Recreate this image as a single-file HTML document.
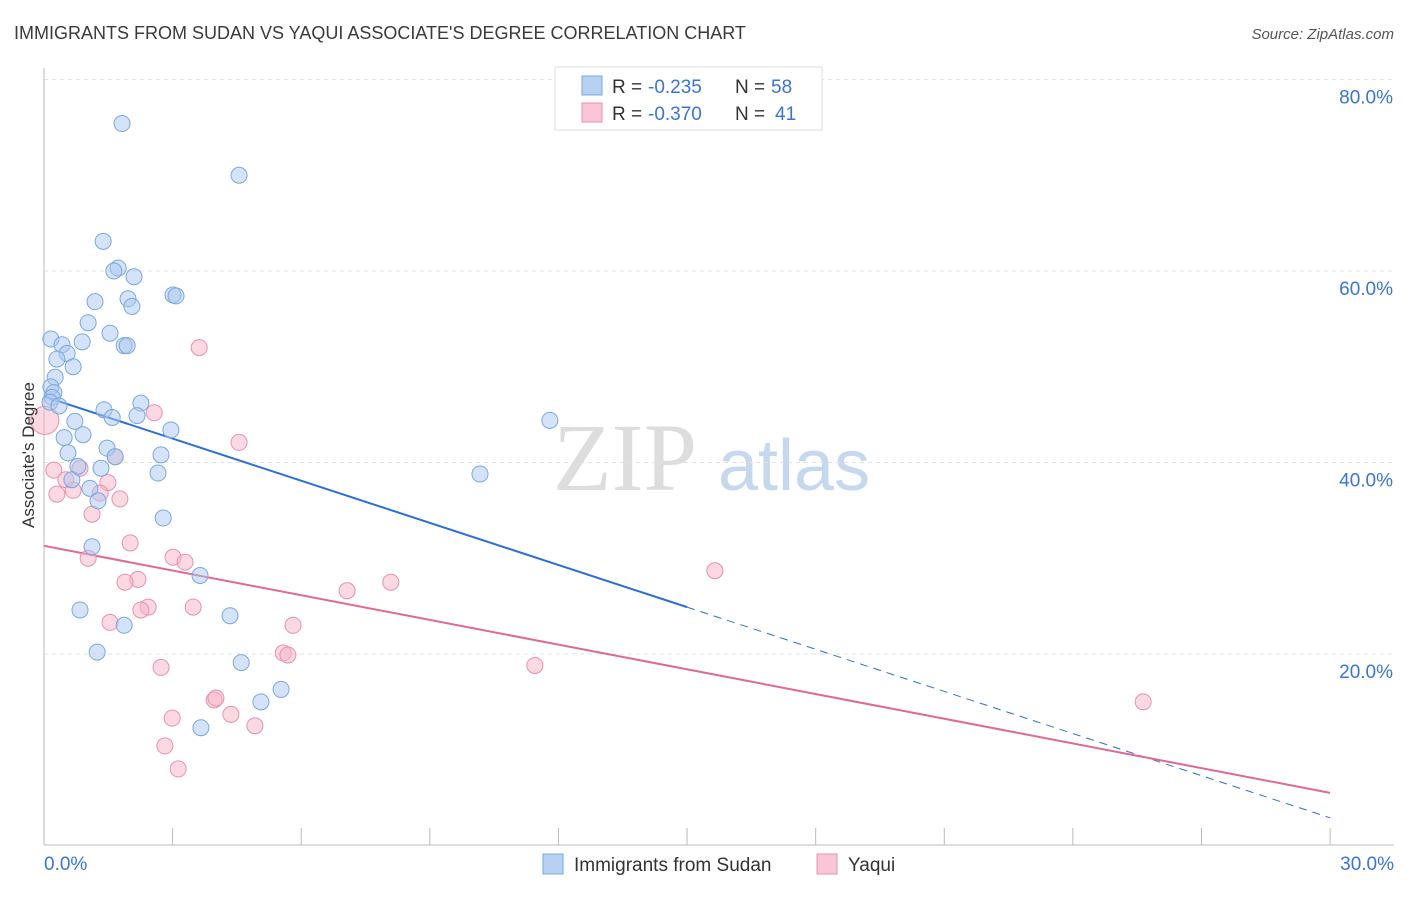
<!DOCTYPE html>
<html><head><meta charset="utf-8"><style>
body{margin:0;background:#fff;font-family:"Liberation Sans",sans-serif;}
</style></head><body>
<svg id="chart" width="1406" height="892" xmlns="http://www.w3.org/2000/svg" font-family="Liberation Sans, sans-serif">
<text x="14" y="39" font-size="18" fill="#3a3a3a">IMMIGRANTS FROM SUDAN VS YAQUI ASSOCIATE'S DEGREE CORRELATION CHART</text>
<text x="1394" y="39" font-size="15" fill="#555" font-style="italic" text-anchor="end">Source: ZipAtlas.com</text>
<g>
<text x="553" y="490" font-size="96" fill="#ddd" font-family="Liberation Serif, serif">ZIP</text>
<text x="718" y="490" font-size="72" fill="#c5d8ee">atlas</text>
</g>
<g id="grid"></g><g id="axes"></g><g id="trend"></g><g id="pts"></g>
<text transform="translate(34,455) rotate(-90)" font-size="17" fill="#333" text-anchor="middle">Associate's Degree</text>
<g>
<rect x="555" y="67" width="267" height="63" fill="#fff" stroke="#ddd"/>
<rect x="582" y="76" width="20" height="19" fill="#b7d1f3" stroke="#7aa8e0"/>
<text x="612" y="93" font-size="19" fill="#333">R =</text>
<text x="648" y="93" font-size="19" fill="#3a75d6">-0.235</text>
<text x="735" y="93" font-size="19" fill="#333">N =</text>
<text x="771" y="93" font-size="19" fill="#3a75d6">58</text>
<rect x="582" y="103" width="20" height="19" fill="#f8c6d6" stroke="#e891ad"/>
<text x="612" y="120" font-size="19" fill="#333">R =</text>
<text x="648" y="120" font-size="19" fill="#3a75d6">-0.370</text>
<text x="735" y="120" font-size="19" fill="#333">N =</text>
<text x="775" y="120" font-size="19" fill="#3a75d6">41</text>
</g>
<g>
<rect x="543" y="854" width="20" height="20" fill="#b7d1f3" stroke="#7aa8e0"/>
<text x="574" y="871" font-size="19" fill="#333">Immigrants from Sudan</text>
<rect x="817" y="854" width="20" height="20" fill="#f8c6d6" stroke="#e891ad"/>
<text x="848" y="871" font-size="19" fill="#333">Yaqui</text>
</g>
</svg>
<script>
const blueX=[1.82,4.55,1.38,1.73,1.63,2.10,3.01,3.08,1.19,1.96,2.05,1.03,1.54,0.16,0.89,1.87,1.94,0.42,0.54,0.30,0.68,0.26,0.16,0.23,0.19,0.14,0.35,2.26,1.40,1.59,2.17,0.72,2.96,0.91,0.47,1.47,0.56,1.66,2.73,0.79,1.33,2.66,10.17,11.80,0.65,1.07,1.26,2.78,1.12,3.64,0.84,4.34,1.87,1.24,4.60,5.53,5.06,3.66];
const blueY=[75.4,70.0,63.1,60.3,60.0,59.4,57.5,57.4,56.8,57.1,56.3,54.6,53.5,52.9,52.6,52.2,52.2,52.3,51.4,50.8,50.0,48.9,47.9,47.3,46.8,46.3,45.9,46.2,45.5,44.7,44.9,44.3,43.4,42.9,42.6,41.5,41.0,40.6,40.8,39.6,39.4,38.9,38.8,44.4,38.2,37.3,36.0,34.2,31.2,28.2,24.6,24.0,23.0,20.2,19.1,16.3,15.0,12.3];
const pinkX=[0.02,3.62,2.57,4.55,0.23,0.84,0.51,1.49,0.68,0.30,1.31,1.77,1.12,2.01,1.03,3.01,3.29,2.19,1.89,8.09,7.07,3.48,2.43,2.26,1.54,5.81,5.58,5.69,2.73,11.45,15.65,25.64,3.97,4.01,2.99,4.36,4.92,2.82,3.13,1.66];
const pinkY=[44.4,52.0,45.2,42.1,39.2,39.4,38.2,37.9,37.1,36.7,36.8,36.2,34.6,31.6,30.0,30.1,29.6,27.8,27.5,27.5,26.6,24.9,24.9,24.6,23.3,23.0,20.1,19.9,18.6,18.8,28.7,15.0,15.2,15.4,13.3,13.7,12.5,10.4,8.0,40.6];
const trendBlue=[46.9,-1.467];
const trendPink=[31.3,-0.86];
const xTicks=[0,3,6,9,12,15,18,21,24,27,30];
const yTicks=[20,40,60,80];
const NS="http://www.w3.org/2000/svg";
const X=v=>44+v*42.87, Y=v=>845.5-v*9.575;
function mk(tag,attrs,parent){const e=document.createElementNS(NS,tag);for(const k in attrs)e.setAttribute(k,attrs[k]);document.getElementById(parent).appendChild(e);return e;}
yTicks.forEach(t=>{
 const g=mk('line',{x1:44,x2:1394,y1:Y(t),y2:Y(t),stroke:'#e2e2e2','stroke-dasharray':'4,4'},'grid');
 
 
 const l=mk('text',{x:1393,y:Y(t)+24,'font-size':19,fill:'#3a75d6','text-anchor':'end'},'grid');
 
 
 l.textContent=t.toFixed(1)+'%';
});
const ax=mk('line',{x1:44,x2:1394,y1:845,y2:845,stroke:'#bbb'},'axes');


const ay=mk('line',{x1:44,x2:44,y1:68,y2:845,stroke:'#bbb'},'axes');


xTicks.forEach(t=>{const tk=mk('line',{x1:X(t),x2:X(t),y1:828,y2:845,stroke:'#bbb'},'axes');
 
 });
[[0,'0.0%','start',44],[30,'30.0%','end',1394]].forEach(([v,s,a,px])=>{const t=mk('text',{x:px,y:870,'font-size':19,fill:'#3a75d6','text-anchor':a},'axes');
 
 
 t.textContent=s;});
const tb1=mk('line',{x1:X(0),y1:Y(trendBlue[0]),x2:X(15),y2:Y(trendBlue[0]+15*trendBlue[1]),stroke:'#2b6fd6','stroke-width':2},'trend');


const tb2=mk('line',{x1:X(15),y1:Y(trendBlue[0]+15*trendBlue[1]),x2:X(30),y2:Y(trendBlue[0]+30*trendBlue[1]),stroke:'#2b6fd6','stroke-width':1,'stroke-dasharray':'8,6'},'trend');


const tp=mk('line',{x1:X(0),y1:Y(trendPink[0]),x2:X(30),y2:Y(trendPink[0]+30*trendPink[1]),stroke:'#e06892','stroke-width':2},'trend');


pinkX.forEach((x,i)=>{const c=mk('circle',{cx:X(x),cy:Y(pinkY[i]),r:i==0?14:8,fill:'#f5b3c8','fill-opacity':0.5,stroke:'#e891ad','stroke-width':1},'pts');
 
 });
blueX.forEach((x,i)=>{const c=mk('circle',{cx:X(x),cy:Y(blueY[i]),r:8,fill:'#a9c8f0','fill-opacity':0.5,stroke:'#7aa8e0','stroke-width':1},'pts');
 
 });
</script>
</body></html>
